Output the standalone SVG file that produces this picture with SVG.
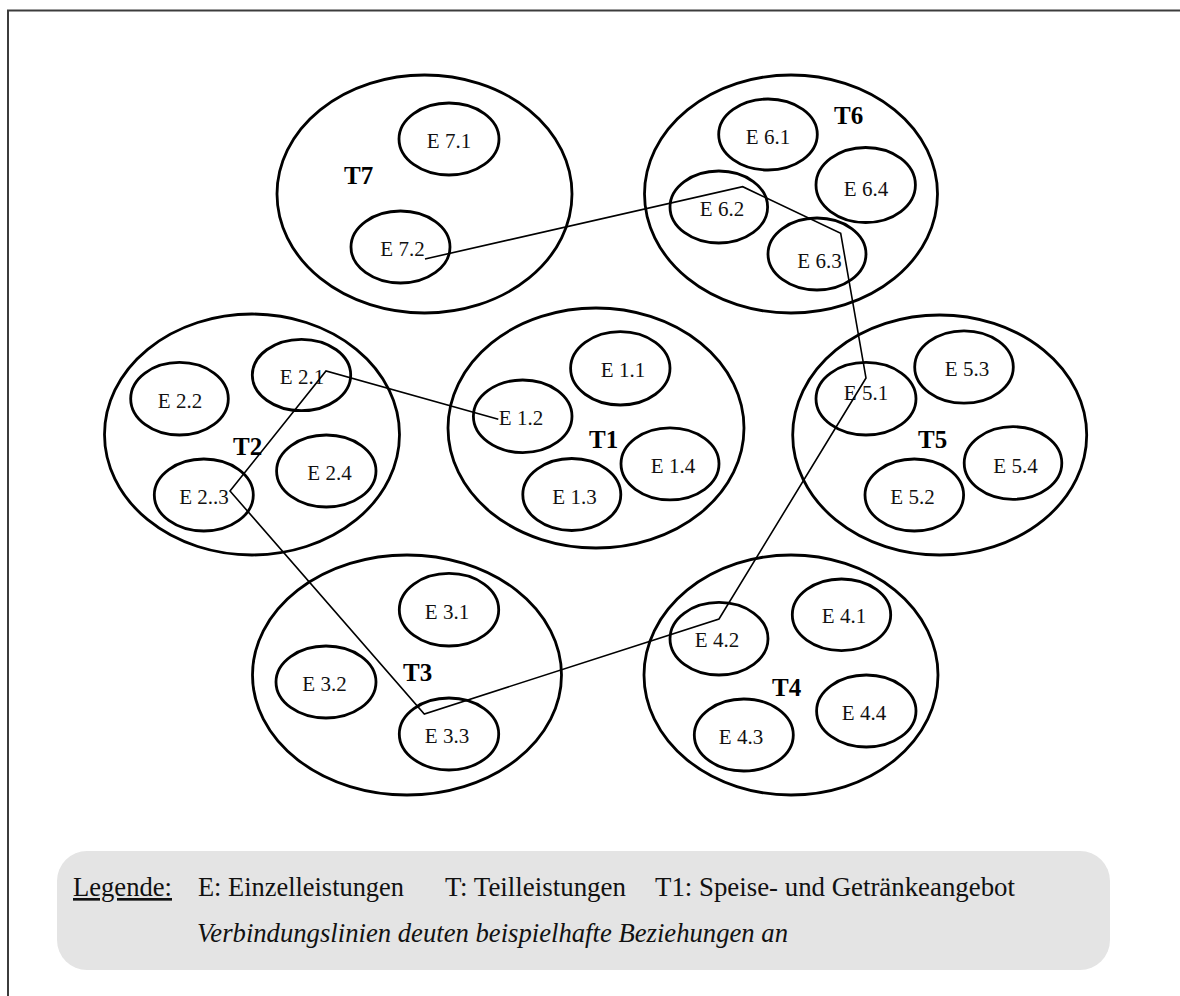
<svg xmlns="http://www.w3.org/2000/svg" width="1180" height="996" viewBox="0 0 1180 996">
  <style>
    .grp { fill: #ffffff; stroke: #000000; stroke-width: 2.8; }
    .item { fill: #ffffff; stroke: #000000; stroke-width: 2.8; }
    .lbl { font-family: "Liberation Serif", "Times New Roman", serif; font-size: 21px; fill: #111111; text-anchor: middle; }
    .tl { font-family: "Liberation Serif", "Times New Roman", serif; font-size: 25px; font-weight: bold; fill: #000000; }
    .link { fill: none; stroke: #000000; stroke-width: 1.6; stroke-linejoin: miter; }
    .leg { font-family: "Liberation Serif", "Times New Roman", serif; font-size: 26.5px; fill: #111111; }
  </style>

  <rect x="0" y="0" width="1180" height="996" fill="#ffffff"/>
  <!-- frame: top and left edge -->
  <path d="M8 996 V10.5 H1180" fill="none" stroke="#3c3c3c" stroke-width="2"/>

  <!-- T7 -->
  <g id="T7">
    <ellipse class="grp" cx="424.5" cy="194" rx="147.5" ry="119"/>
    <text class="tl" x="344" y="184">T7</text>
    <ellipse class="item" cx="449" cy="139" rx="50" ry="36"/>
    <text class="lbl" x="449" y="148">E 7.1</text>
    <ellipse class="item" cx="400.5" cy="247" rx="49.5" ry="36"/>
    <text class="lbl" x="402.5" y="256">E 7.2</text>
  </g>

  <!-- T6 -->
  <g id="T6">
    <ellipse class="grp" cx="791" cy="194" rx="146.5" ry="119"/>
    <text class="tl" x="834" y="124">T6</text>
    <ellipse class="item" cx="768" cy="134.5" rx="49.3" ry="35.5"/>
    <text class="lbl" x="768" y="144">E 6.1</text>
    <ellipse class="item" cx="865.7" cy="185" rx="49.7" ry="37.5"/>
    <text class="lbl" x="866" y="196">E 6.4</text>
    <ellipse class="item" cx="718.8" cy="207" rx="48.8" ry="36"/>
    <text class="lbl" x="722" y="216">E 6.2</text>
    <ellipse class="item" cx="817" cy="254" rx="49" ry="36"/>
    <text class="lbl" x="819.5" y="268">E 6.3</text>
  </g>

  <!-- T2 -->
  <g id="T2">
    <ellipse class="grp" cx="252" cy="434.5" rx="147.5" ry="120.5"/>
    <text class="tl" x="233" y="455">T2</text>
    <ellipse class="item" cx="179.5" cy="398.7" rx="48.8" ry="36.3"/>
    <text class="lbl" x="180" y="408">E 2.2</text>
    <ellipse class="item" cx="301.5" cy="375" rx="49.2" ry="35.7"/>
    <text class="lbl" x="302" y="384">E 2.1</text>
    <ellipse class="item" cx="326.3" cy="471" rx="49.7" ry="36"/>
    <text class="lbl" x="329.5" y="480">E 2.4</text>
    <ellipse class="item" cx="203.8" cy="495" rx="49.5" ry="36"/>
    <text class="lbl" x="204" y="504">E 2..3</text>
  </g>

  <!-- T1 -->
  <g id="T1">
    <ellipse class="grp" cx="596" cy="428" rx="148" ry="120"/>
    <text class="tl" x="589" y="448">T1</text>
    <ellipse class="item" cx="620.3" cy="368.3" rx="49.7" ry="36.7"/>
    <text class="lbl" x="623" y="377">E 1.1</text>
    <ellipse class="item" cx="522.7" cy="416.3" rx="49.3" ry="36.3"/>
    <text class="lbl" x="521" y="425">E 1.2</text>
    <ellipse class="item" cx="670" cy="463.8" rx="49" ry="36"/>
    <text class="lbl" x="673" y="473">E 1.4</text>
    <ellipse class="item" cx="571.8" cy="494.5" rx="49" ry="36"/>
    <text class="lbl" x="574.5" y="504">E 1.3</text>
  </g>

  <!-- T5 -->
  <g id="T5">
    <ellipse class="grp" cx="939.7" cy="435" rx="147" ry="120"/>
    <text class="tl" x="918" y="448">T5</text>
    <ellipse class="item" cx="866" cy="398.7" rx="50" ry="36.3"/>
    <text class="lbl" x="866" y="400">E 5.1</text>
    <ellipse class="item" cx="964" cy="367" rx="49.3" ry="36.2"/>
    <text class="lbl" x="967" y="376">E 5.3</text>
    <ellipse class="item" cx="1013" cy="463" rx="48.8" ry="36.3"/>
    <text class="lbl" x="1015.5" y="472.5">E 5.4</text>
    <ellipse class="item" cx="914.3" cy="495" rx="49.3" ry="36"/>
    <text class="lbl" x="912.5" y="504">E 5.2</text>
  </g>

  <!-- T3 -->
  <g id="T3">
    <ellipse class="grp" cx="407" cy="675" rx="154.5" ry="120"/>
    <text class="tl" x="403" y="681">T3</text>
    <ellipse class="item" cx="449" cy="609.7" rx="49.7" ry="36.3"/>
    <text class="lbl" x="447" y="619">E 3.1</text>
    <ellipse class="item" cx="326" cy="682" rx="50" ry="36"/>
    <text class="lbl" x="324.5" y="691">E 3.2</text>
    <ellipse class="item" cx="449" cy="734" rx="49.7" ry="36"/>
    <text class="lbl" x="447" y="743">E 3.3</text>
  </g>

  <!-- T4 -->
  <g id="T4">
    <ellipse class="grp" cx="791" cy="675" rx="147" ry="120"/>
    <text class="tl" x="772" y="695.5">T4</text>
    <ellipse class="item" cx="719" cy="638.7" rx="49" ry="36.3"/>
    <text class="lbl" x="717" y="647">E 4.2</text>
    <ellipse class="item" cx="841.5" cy="614.8" rx="49.2" ry="35.8"/>
    <text class="lbl" x="844" y="623">E 4.1</text>
    <ellipse class="item" cx="866.3" cy="711" rx="49.7" ry="36"/>
    <text class="lbl" x="864" y="720">E 4.4</text>
    <ellipse class="item" cx="743.8" cy="735" rx="49.5" ry="36"/>
    <text class="lbl" x="741" y="744">E 4.3</text>
  </g>

  <!-- connectors between single services -->
  <g id="connectors">
    <polyline class="link" points="425,259 742.7,186.7 840.7,233.3 866,378 719,619 424.3,714 230,491 326,371 498.3,419.3"/>
  </g>

  <!-- legend -->
  <g id="legend" font-family="'Liberation Serif', 'DejaVu Serif', serif">
    <rect x="57" y="851" width="1053" height="119" rx="30" ry="30" fill="#e4e4e4"/>
    <text class="leg" font-family="'Liberation Serif', 'DejaVu Serif', serif" x="73" y="896" textLength="99" lengthAdjust="spacingAndGlyphs" text-decoration="underline">Legende:</text>
    <text class="leg" font-family="'Liberation Serif', 'DejaVu Serif', serif" x="198" y="896" textLength="206" lengthAdjust="spacingAndGlyphs">E: Einzelleistungen</text>
    <text class="leg" font-family="'Liberation Serif', 'DejaVu Serif', serif" x="445" y="896" textLength="181" lengthAdjust="spacingAndGlyphs">T: Teilleistungen</text>
    <text class="leg" font-family="'Liberation Serif', 'DejaVu Serif', serif" x="655" y="896" textLength="360" lengthAdjust="spacingAndGlyphs">T1: Speise- und Getränkeangebot</text>
    <text class="leg" font-family="'Liberation Serif', 'DejaVu Serif', serif" x="197" y="942" font-style="italic" textLength="591" lengthAdjust="spacingAndGlyphs">Verbindungslinien deuten beispielhafte Beziehungen an</text>
  </g>
</svg>
